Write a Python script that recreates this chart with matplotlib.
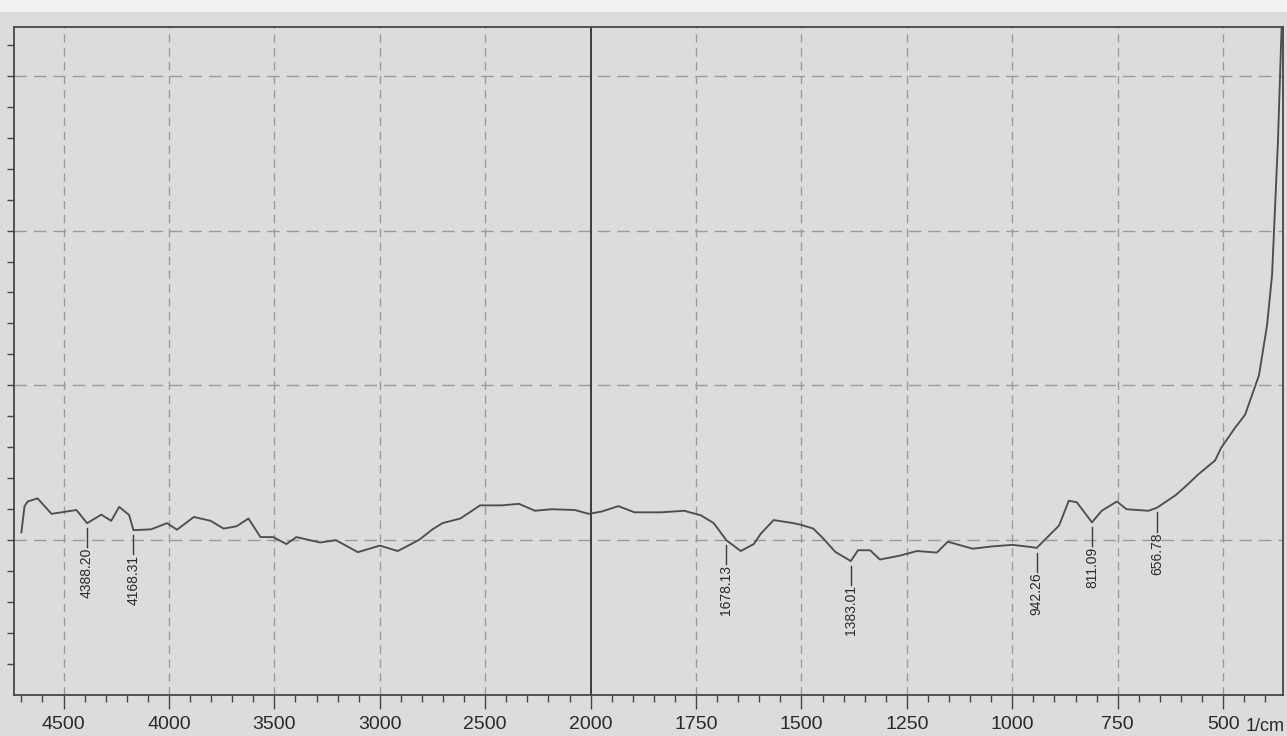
import numpy as np
import matplotlib
matplotlib.use("Agg")
import matplotlib.pyplot as plt
from matplotlib.ticker import FixedLocator, NullFormatter
from matplotlib.patches import Rectangle

# FTIR spectrum (wavenumber in 1/cm, transmittance in %T)
wavenumber = [
    4700, 4685, 4670, 4623, 4557, 4439, 4388.20, 4321, 4274, 4236, 4189, 4168.31,
    4085, 4009, 3962, 3882, 3802, 3741, 3679, 3623, 3566, 3505, 3443, 3396,
    3283, 3208, 3104, 3000, 2915, 2844, 2811, 2750, 2703, 2618, 2524, 2420,
    2340, 2264, 2184, 2075, 2009, 1974, 1934, 1896, 1833, 1778, 1738, 1708,
    1678.13, 1644, 1613, 1597, 1566, 1519, 1502, 1472, 1448, 1420, 1383.01,
    1366, 1337, 1314, 1267, 1226, 1179, 1153, 1094, 1047, 1000, 953, 942.26,
    889, 866, 847, 811.09, 788, 752, 729, 677, 656.78, 613, 590, 559, 519,
    505, 472, 448, 415, 396, 384, 377, 370, 365, 362, 360,
]
transmittance = [
    21.0, 24.4, 25.0, 25.4, 23.4, 23.9, 22.2, 23.3, 22.5, 24.3, 23.25, 21.3,
    21.4, 22.2, 21.35, 23.0, 22.5, 21.5, 21.8, 22.8, 20.4, 20.4, 19.5, 20.4,
    19.7, 20.0, 18.45, 19.3, 18.6, 19.6, 20.1, 21.4, 22.2, 22.8, 24.5, 24.5,
    24.7, 23.8, 24.0, 23.9, 23.4, 23.7, 24.4, 23.6, 23.6, 23.8, 23.2, 22.2,
    20.0, 18.6, 19.5, 20.8, 22.6, 22.2, 22.0, 21.5, 20.2, 18.5, 17.3,
    18.7, 18.7, 17.5, 18.0, 18.6, 18.4, 19.8, 18.9, 19.2, 19.4, 19.1, 19.0,
    21.9, 25.1, 24.9, 22.3, 23.8, 25.0, 24.0, 23.8, 24.2, 25.8, 26.9, 28.5, 30.3,
    31.9, 34.5, 36.2, 41.3, 47.7, 54.2, 62.8, 71.5, 80.0, 85.1, 88.0,
]

peak_positions = [4388.20, 4168.31, 1678.13, 1383.01, 942.26, 811.09, 656.78]
peak_labels = ["4388.20", "4168.31", "1678.13", "1383.01", "942.26", "811.09", "656.78"]

major_ticks = [4500, 4000, 3500, 3000, 2500, 2000, 1750, 1500, 1250, 1000, 750, 500]
tick_labels = ["4500", "4000", "3500", "3000", "2500", "2000",
               "1750", "1500", "1250", "1000", "750", "500"]
minor_ticks = list(range(4700, 2000, -100)) + list(range(1950, 350, -50))
y_ticks = list(range(4, 87, 4))
y_grid = [20, 40, 60, 80]

paper = "#dcdcda"
ink = "#464646"
grid_col = "#9a9a9a"

plt.rcParams["font.family"] = ["Liberation Sans", "DejaVu Sans"]


# The abscissa is compressed by a factor of two above 2000 1/cm
def forward(x):
    x = np.asarray(x, dtype=float)
    return np.where(x >= 2000, (x - 2000.0) / 500.0, (x - 2000.0) / 250.0)


def inverse(u):
    u = np.asarray(u, dtype=float)
    return np.where(u >= 0, 2000.0 + 500.0 * u, 2000.0 + 250.0 * u)


fig = plt.figure(figsize=(12.87, 7.36), dpi=100, facecolor=paper)
fig.patches.append(Rectangle((0, 1 - 12 / 736), 1, 12 / 736, transform=fig.transFigure,
                             facecolor="#f2f2f2", edgecolor="none", zorder=0))
ax = fig.add_axes([14 / 1287, 41 / 736, 1269 / 1287, 668 / 736])
ax.set_facecolor(paper)
ax.set_xscale("function", functions=(forward, inverse))
ax.set_xlim(4735, 358)
ax.set_ylim(0, 86.3)

# grid
for t in major_ticks:
    if t == 2000:
        ax.axvline(t, color="#3c3c3c", lw=1.4, zorder=2)
    else:
        ax.axvline(t, color=grid_col, lw=1.0, ls=(0, (6, 4)), zorder=1)
for g in y_grid:
    ax.axhline(g, color=grid_col, lw=1.0, ls=(0, (9, 5)), zorder=1)

# spectrum
ax.plot(wavenumber, transmittance, color="#4e4e4e", lw=1.35, zorder=3, clip_on=True)

# peak markers
wn_asc = np.array(wavenumber)[::-1]
tr_asc = np.array(transmittance)[::-1]
for pos, lab in zip(peak_positions, peak_labels):
    yc = float(np.interp(pos, wn_asc, tr_asc))
    ax.plot([pos, pos], [yc - 0.6, yc - 3.1], color="#3c3c3c", lw=1.0, zorder=3)
    ax.text(pos, yc - 3.15, lab, rotation=90, ha="center", va="top",
            fontsize=10, color="#2a2a2a", zorder=4)

# axes frame and ticks
for s in ax.spines.values():
    s.set_color(ink)
    s.set_linewidth(1.3)

ax.xaxis.set_major_locator(FixedLocator(major_ticks))
ax.set_xticklabels(tick_labels)
ax.xaxis.set_minor_locator(FixedLocator(minor_ticks))
ax.xaxis.set_minor_formatter(NullFormatter())
ax.tick_params(axis="x", which="major", direction="out", length=10, width=1.0,
               color=ink, labelsize=14, labelcolor="#2a2a2a", pad=5)
ax.tick_params(axis="x", which="minor", direction="out", length=5, width=1.0, color=ink)

ax.yaxis.set_major_locator(FixedLocator(y_ticks))
ax.yaxis.set_major_formatter(NullFormatter())
ax.tick_params(axis="y", which="major", direction="out", length=5, width=1.0, color=ink)

fig.text(1285 / 1287, 1 / 736, "1/cm", fontsize=13, color="#2a2a2a", ha="right", va="bottom")

fig.savefig("out.png", dpi=100, facecolor=paper)
